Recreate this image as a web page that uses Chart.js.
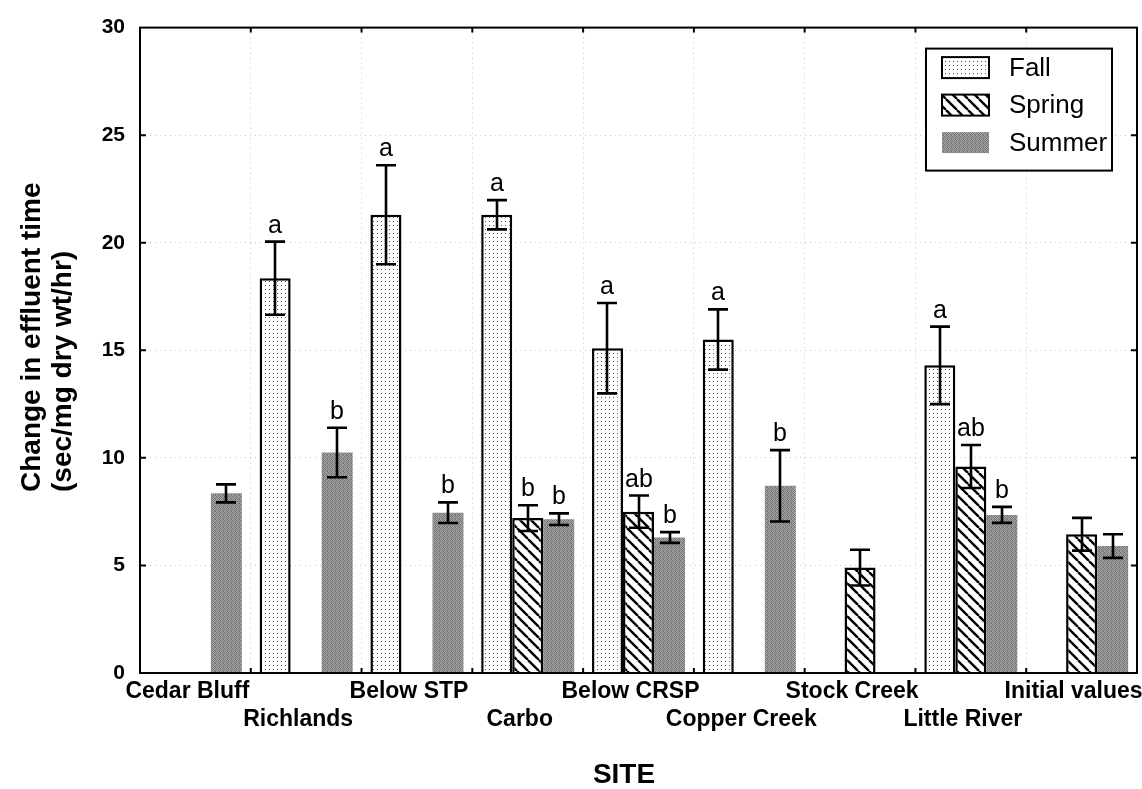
<!DOCTYPE html>
<html>
<head>
<meta charset="utf-8">
<script src="https://cdn.jsdelivr.net/npm/chart.js@4.4.1/dist/chart.umd.min.js"></script>
<style>
  html, body { margin: 0; padding: 0; background: #fff; }
  #wrap { width: 1142px; height: 789px; }
</style>
</head>
<body>
<div id="wrap"><canvas id="siteChart" width="1142" height="789"></canvas></div>
<script>
// ─────────────────────────────────────────────
//  Change in effluent time by site and season
// ─────────────────────────────────────────────

// ── Data ──
const SITES = ['Cedar Bluff', 'Richlands', 'Below STP', 'Carbo', 'Below CRSP',
               'Copper Creek', 'Stock Creek', 'Little River', 'Initial values'];
const SEASONS = ['Fall', 'Spring', 'Summer'];

const FALL        = [null, 18.35, 21.3, 21.3, 15.1, 15.5, null, 14.3, null];
const FALL_ERR    = [null, 1.7,   2.3,  0.68, 2.1,  1.4,  null, 1.8,  null];
const FALL_SIG    = [null, 'a',   'a',  'a',  'a',  'a',  null, 'a',  null];

const SPRING      = [null, null, null, 7.2,  7.5,  null, 4.9,  9.6,  6.45];
const SPRING_ERR  = [null, null, null, 0.6,  0.75, null, 0.83, 1.0,  0.76];
const SPRING_SIG  = [null, null, null, 'b',  'ab', null, null, 'ab', null];

const SUMMER      = [8.35, 10.25, 7.45, 7.15, 6.3,  8.7,  null, 7.35, 5.9];
const SUMMER_ERR  = [0.42, 1.15,  0.48, 0.27, 0.25, 1.66, null, 0.37, 0.55];
const SUMMER_SIG  = [null, 'b',   'b',  'b',  'b',  'b',  null, 'b',  null];

const Y_MIN = 0, Y_MAX = 30, Y_STEP = 5;

// ── Colour / font tokens ──
const C_INK  = '#000';
const C_GRID = 'rgba(0,0,0,0.22)';
const FONT   = '"Liberation Sans", Arial, Helvetica, sans-serif';

// ── Fill patterns ──
function dotPattern() {
  const c = document.createElement('canvas');
  c.width = 4; c.height = 4;
  const g = c.getContext('2d');
  g.fillStyle = '#fff'; g.fillRect(0, 0, 4, 4);
  g.fillStyle = '#555'; g.fillRect(1, 1, 1, 1);
  return g.createPattern(c, 'repeat');
}

function hatchPattern() {
  const s = 11;
  const c = document.createElement('canvas');
  c.width = s; c.height = s;
  const g = c.getContext('2d');
  g.fillStyle = '#fff'; g.fillRect(0, 0, s, s);
  g.strokeStyle = '#000'; g.lineWidth = 2.4;
  g.beginPath();
  for (let k = -1; k <= 1; k++) {
    g.moveTo(k * s, 0);
    g.lineTo(k * s + s, s);
  }
  g.stroke();
  return g.createPattern(c, 'repeat');
}

// grey speckle used for the summer bars
const SPECKLE = [
  [0x70, 0xa8, 0x84, 0x9e],
  [0x9a, 0x76, 0xae, 0x7c],
  [0x8a, 0xa4, 0x6e, 0x98],
  [0xac, 0x80, 0x9c, 0x6a],
];
function specklePattern() {
  const c = document.createElement('canvas');
  c.width = 4; c.height = 4;
  const g = c.getContext('2d');
  SPECKLE.forEach((row, r) => row.forEach((v, q) => {
    g.fillStyle = `rgb(${v},${v},${v})`;
    g.fillRect(q, r, 1, 1);
  }));
  return g.createPattern(c, 'repeat');
}

const P_FALL = dotPattern();
const P_SPRING = hatchPattern();
const P_SUMMER = specklePattern();

const SERIES = [
  { values: FALL,   err: FALL_ERR,   sig: FALL_SIG,   fill: P_FALL,   border: 2.5 },
  { values: SPRING, err: SPRING_ERR, sig: SPRING_SIG, fill: P_SPRING, border: 2.5 },
  { values: SUMMER, err: SUMMER_ERR, sig: SUMMER_SIG, fill: P_SUMMER, border: 0 },
];

// staggered category labels: every second site drops to a second row
const X_LABELS = SITES.map((s, i) => (i % 2 ? ['', s] : s));

// ── Frame, inner ticks, error bars, letters, legend, axis titles ──
const siteDecor = {
  id: 'siteDecor',
  afterDatasetsDraw(chart) {
    const { ctx, scales: { y } } = chart;
    ctx.save();
    ctx.strokeStyle = C_INK;
    ctx.fillStyle = C_INK;
    ctx.lineWidth = 2.6;
    ctx.font = `25px ${FONT}`;
    ctx.textAlign = 'center';
    ctx.textBaseline = 'alphabetic';
    SERIES.forEach((s, d) => {
      const meta = chart.getDatasetMeta(d);
      s.values.forEach((v, i) => {
        if (v == null) return;
        const bx = Math.round(meta.data[i].x);
        const yt = y.getPixelForValue(v + s.err[i]);
        const yb = y.getPixelForValue(v - s.err[i]);
        ctx.beginPath();
        ctx.moveTo(bx, yt); ctx.lineTo(bx, yb);
        ctx.moveTo(bx - 10, yt); ctx.lineTo(bx + 10, yt);
        ctx.moveTo(bx - 10, yb); ctx.lineTo(bx + 10, yb);
        ctx.stroke();
        if (s.sig[i]) ctx.fillText(s.sig[i], bx, yt - 9);
      });
    });
    ctx.restore();
  },
  afterDraw(chart) {
    const { ctx, chartArea: a, scales: { x, y } } = chart;
    ctx.save();
    ctx.strokeStyle = C_INK;
    ctx.fillStyle = C_INK;

    // plot frame
    ctx.lineWidth = 2;
    ctx.strokeRect(a.left, a.top, a.right - a.left, a.bottom - a.top);

    // ticks pointing into the plot
    ctx.beginPath();
    for (let v = Y_MIN + Y_STEP; v < Y_MAX; v += Y_STEP) {
      const py = y.getPixelForValue(v);
      ctx.moveTo(a.left, py); ctx.lineTo(a.left + 6, py);
      ctx.moveTo(a.right, py); ctx.lineTo(a.right - 6, py);
    }
    for (let i = 1; i < SITES.length; i++) {
      const px = (x.getPixelForValue(i - 1) + x.getPixelForValue(i)) / 2;
      ctx.moveTo(px, a.bottom); ctx.lineTo(px, a.bottom - 5);
      ctx.moveTo(px, a.top); ctx.lineTo(px, a.top + 5);
    }
    ctx.stroke();

    // legend box
    const lx = a.right - 211, ly = a.top + 21, lw = 186, lh = 122;
    ctx.fillStyle = '#fff';
    ctx.fillRect(lx, ly, lw, lh);
    ctx.lineWidth = 2;
    ctx.strokeRect(lx, ly, lw, lh);
    ctx.font = `26px ${FONT}`;
    ctx.textAlign = 'left';
    ctx.textBaseline = 'middle';
    chart.data.datasets.forEach((ds, d) => {
      const cy = ly + 19 + d * 37.5;
      const sx = lx + 16, sw = 47, sh = 21;
      ctx.fillStyle = ds.backgroundColor;
      ctx.fillRect(sx, cy - sh / 2, sw, sh);
      if (ds.borderWidth) {
        ctx.lineWidth = 2;
        ctx.strokeRect(sx, cy - sh / 2, sw, sh);
      }
      ctx.fillStyle = C_INK;
      ctx.fillText(ds.label, lx + 83, cy + 1);
    });

    // y axis title, two lines starting from the same end
    ctx.font = `bold 28px ${FONT}`;
    ctx.save();
    ctx.translate(0, 492);
    ctx.rotate(-Math.PI / 2);
    ctx.textAlign = 'left';
    ctx.textBaseline = 'middle';
    ctx.fillText('Change in effluent time', 0, 32);
    ctx.fillText('(sec/mg dry wt/hr)', 0, 63);
    ctx.restore();

    // x axis title
    ctx.font = `bold 28px ${FONT}`;
    ctx.textAlign = 'center';
    ctx.textBaseline = 'middle';
    ctx.fillText('SITE', 624, 775);
    ctx.restore();
  }
};

// ── Chart ──
new Chart(document.getElementById('siteChart'), {
  type: 'bar',
  data: {
    labels: X_LABELS,
    datasets: SEASONS.map((name, d) => ({
      label: name,
      data: SERIES[d].values,
      backgroundColor: SERIES[d].fill,
      borderColor: C_INK,
      borderWidth: SERIES[d].border,
      categoryPercentage: 0.84,
      barPercentage: 1.0,
    })),
  },
  options: {
    responsive: false,
    animation: false,
    devicePixelRatio: 1,
    layout: { padding: { top: 26, right: 5, left: 0, bottom: 0 } },
    plugins: {
      legend: { display: false },
      tooltip: { enabled: false },
    },
    scales: {
      x: {
        grid: { offset: true, drawTicks: false, color: C_GRID, lineWidth: 1 },
        border: { display: false, dash: [1, 4] },
        ticks: {
          color: C_INK,
          font: { family: FONT, size: 23, weight: 'bold', lineHeight: 1.22 },
          padding: 5,
          labelOffset: -8,
          maxRotation: 0,
          autoSkip: false,
        },
        afterFit: s => {
          s.height = 116;
          s.paddingLeft = 0;
          s.paddingRight = 0;
        },
      },
      y: {
        min: Y_MIN,
        max: Y_MAX,
        grid: { drawTicks: false, color: C_GRID, lineWidth: 1 },
        border: { display: false, dash: [1, 4] },
        ticks: {
          stepSize: Y_STEP,
          color: C_INK,
          font: { family: FONT, size: 21, weight: 'bold' },
          padding: 15,
        },
        afterFit: s => { s.width = 140; },
      },
    },
  },
  plugins: [siteDecor],
});
</script>
</body>
</html>
